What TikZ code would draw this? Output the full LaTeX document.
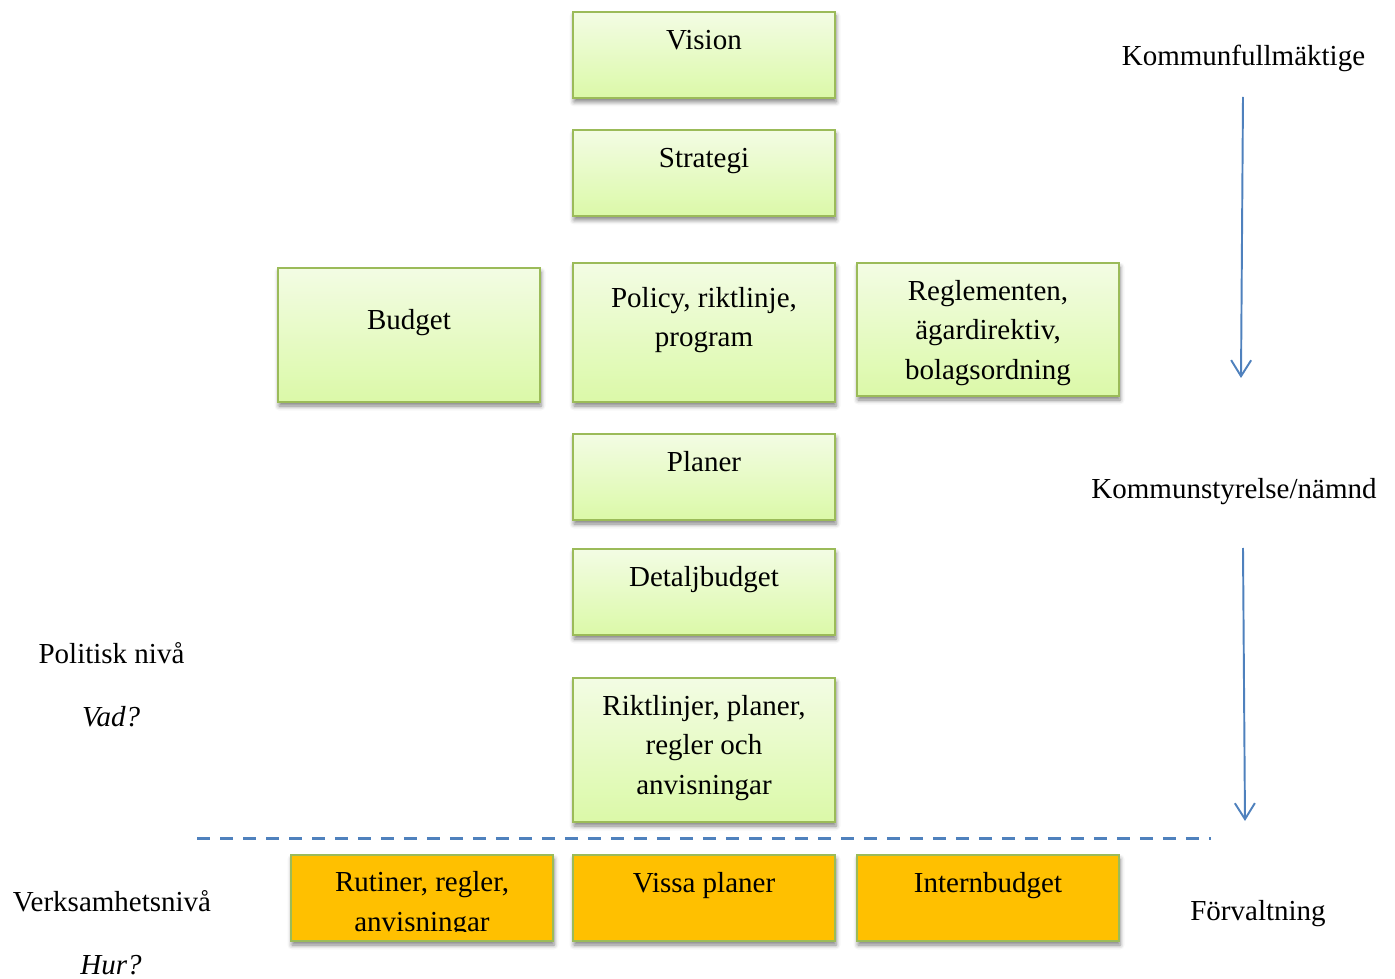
\documentclass[tikz,border=0pt]{standalone}
\usepackage{fontspec}
\setmainfont{Liberation Serif}
\usepackage{tikz}
\usetikzlibrary{arrows.meta, positioning, shadows.blur}
\definecolor{boxborder}{RGB}{155,187,89}
\definecolor{boxtop}{RGB}{243,252,228}
\definecolor{boxbottom}{RGB}{219,249,168}
\definecolor{boxorange}{RGB}{255,192,0}
\definecolor{arrowblue}{RGB}{79,129,189}

\begin{document}
\begin{tikzpicture}[
		node distance=0.64cm,
		font=\fontsize{16.5}{22.5}\selectfont,
		box/.style={draw=boxborder, line width=1.2pt, minimum width=5.24cm,
			minimum height=1.72cm, inner sep=0pt, outer sep=0pt, align=center,
			blur shadow={shadow xshift=0.02cm, shadow yshift=-0.08cm,
				shadow blur radius=0.09cm, shadow opacity=50}},
		greenbox/.style={box, top color=boxtop, bottom color=boxbottom},
		orangebox/.style={box, fill=boxorange},
		textpos/.style 2 args={text height=#1, text depth=#2},
		lift/.style={textpos={0.45cm}{0.67cm}},
		arrow/.style={-{Straight Barb[length=3.2mm, width=4mm]}, line width=1.1pt, draw=arrowblue},
		levelline/.style={draw=arrowblue, line width=1.9pt, dash pattern=on 0.26cm off 0.2cm}
	]
		\useasboundingbox (0,0) rectangle (27.9,-19.58);

		% politisk niva
		\node[greenbox, lift] (vision) at (14.08,-1.10) {Vision};
		\node[greenbox, lift, below=of vision] (strategi) {Strategi};
		\node[greenbox, minimum height=2.78cm, textpos={1.3cm}{0.72cm}, below=0.94cm of strategi] (policy) {Policy, riktlinje,\\program};
		\node[greenbox, minimum height=2.68cm, lift, left=0.66cm of policy.south west, anchor=south east] (budget) {Budget};
		\node[greenbox, minimum height=2.66cm, textpos={2.2cm}{0.2cm}, right=0.44cm of policy.north east, anchor=north west] (regl) {Reglementen,\\ägardirektiv,\\bolagsordning};
		\node[greenbox, lift, below=of policy] (planer) {Planer};
		\node[greenbox, lift, below=0.58cm of planer] (detalj) {Detaljbudget};
		\node[greenbox, minimum height=2.88cm, textpos={2.1cm}{0.32cm}, below=0.86cm of detalj] (riktl) {Riktlinjer, planer,\\regler och\\anvisningar};

		% verksamhetsniva
		\node[orangebox, lift, below=0.66cm of riktl] (vissa) {Vissa planer};
		\node[orangebox, lift, right=0.44cm of vissa] (intern) {Internbudget};
		\node[orangebox, left=0.40cm of vissa] (rutiner) {};
		\begin{scope}
			\clip (rutiner.north west) rectangle ([yshift=0.2cm]rutiner.south east);
			\node[inner sep=0pt, align=center, textpos={1.4cm}{0.08cm}] (rutinertext) at (rutiner) {Rutiner, regler,\\anvisningar};
		\end{scope}

		\coordinate (dashL) at (3.94,-16.77);
		\coordinate (dashR) at (24.22,-16.77);
		\draw[levelline] (dashL) -- (dashR);

		% texter till vanster och hoger
		\node (pol) at (2.23,-13.06) {Politisk nivå};
		\node (vad) at (2.22,-14.34) {\itshape Vad?};
		\node (verk) at (2.24,-18.02) {Verksamhetsnivå};
		\node (hur) at (2.22,-19.30) {\itshape Hur?};
		\node (kf) at (24.87,-1.16) {Kommunfullmäktige};
		\node (ks) at (24.68,-9.84) {Kommunstyrelse/nämnd};
		\node (forv) at (25.16,-18.28) {Förvaltning};

		\coordinate (a1s) at (24.86,-1.94);
		\coordinate (a1e) at (24.82,-7.56);
		\coordinate (a2s) at (24.86,-10.96);
		\coordinate (a2e) at (24.90,-16.42);
		\draw[arrow] (a1s) -- (a1e);
		\draw[arrow] (a2s) -- (a2e);
	\end{tikzpicture}
\end{document}
